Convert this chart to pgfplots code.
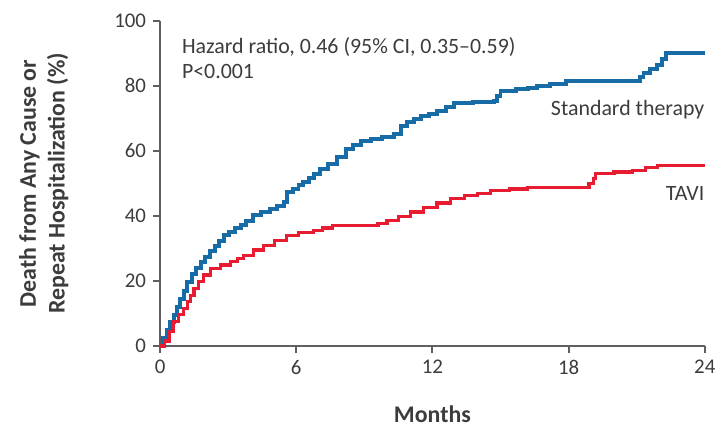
\documentclass[border=0pt]{standalone}
\usepackage{fontspec}
\setmainfont{Carlito}
\usepackage{pgfplots}
\pgfplotsset{compat=1.18}
\definecolor{stdblue}{RGB}{24,108,165}
\definecolor{tavired}{RGB}{232,28,48}
\definecolor{axgray}{RGB}{95,95,95}
\definecolor{txtgray}{RGB}{60,60,60}
\begin{document}
\begin{tikzpicture}
\begin{axis}[
  name=ax,
  scale only axis,
  width=274pt, height=163.5pt,
  xmin=0, xmax=24, ymin=0, ymax=100,
  axis x line*=bottom, axis y line*=left,
  axis line style={axgray, line width=1.3pt},
  xtick={0,6,12,18,24}, ytick={0,20,40,60,80,100},
  tick align=outside, major tick length=3.5pt,
  tick style={axgray, line width=1pt},
  tick label style={font=\fontsize{10.5}{12}\selectfont, txtgray},
  /pgf/number format/assume math mode=true,
  xlabel={\textbf{Months}},
  ylabel={\textbf{Death from Any Cause or}\\\textbf{Repeat Hospitalization (\%)}},
  xlabel style={font=\fontsize{12}{13}\selectfont, txtgray, at={(axis description cs:0.5,-0.211)}, anchor=center},
  ylabel style={font=\fontsize{12}{14.5}\selectfont, txtgray, align=center, at={(axis description cs:-0.2135,0.5)}, anchor=center},
  clip=false,
]
% standard therapy
\addplot[const plot, stdblue, line width=2pt] coordinates {
  (0,0)(0.15,2.5)(0.3,5)(0.45,7.5)(0.6,9.6)(0.75,12)(0.9,14.5)(1.05,17)(1.2,19.8)
  (1.4,22)(1.6,23.9)(1.8,25.8)(2.0,27.5)(2.2,29.2)(2.4,30.8)(2.6,32.4)(2.8,34)
  (3.05,35.2)(3.3,36.2)(3.55,37.1)(3.8,38.5)(4.1,40.2)(4.45,41.2)(4.85,42.2)
  (5.15,43.2)(5.45,44.2)(5.6,47.3)(5.85,48.3)(6.1,49.4)(6.3,50.3)(6.55,51.7)
  (6.8,53)(7.05,54.4)(7.4,56)(7.8,58.2)(8.2,60.5)(8.5,61.8)(8.85,63.1)(9.3,63.7)
  (9.8,64.4)(10.3,65.1)(10.6,67.7)(10.9,68.8)(11.2,69.8)(11.5,70.7)(11.85,71.5)
  (12.2,72.3)(12.6,73.6)(12.95,74.8)(13.8,75)(14.7,75.3)(14.85,77)(15.0,78.4)
  (15.7,78.9)(16.2,79.3)(16.6,79.9)(17.2,80.6)(17.9,81.4)(21.0,81.4)(21.15,82.6)
  (21.3,84)(21.6,85.2)(21.9,86.5)(22.1,88.3)(22.3,90.1)(24,90.1)
};
% TAVI
\addplot[const plot, tavired, line width=1.6pt] coordinates {
  (0,0)(0.18,1.5)(0.4,4.5)(0.6,7.6)(0.8,9.6)(1.05,11.6)(1.2,13.6)(1.35,15.6)
  (1.5,17.7)(1.7,19.8)(1.93,21.8)(2.22,23.9)(2.65,24.9)(3.1,25.9)(3.4,26.9)
  (3.68,27.9)(4.1,29.5)(4.55,31)(5.05,32.5)(5.58,34)(6.1,34.8)(6.75,35.6)
  (7.15,36.3)(7.6,37.1)(9.6,37.6)(10.0,38.5)(10.5,39.8)(11.05,41.2)(11.6,42.6)
  (12.2,44)(12.8,45.3)(13.4,46.2)(14.0,47)(14.55,47.8)(15.4,48.3)(16.2,48.8)
  (18.4,48.8)(18.9,50)(19.1,51.4)(19.2,53)(20.0,53.5)(20.8,54)(21.4,54.8)
  (21.9,55.5)(24,55.5)
};
\node[anchor=west, txtgray, font=\fontsize{11}{12}\selectfont, inner sep=0pt] at (axis cs:0.95,92) {Hazard ratio, 0.46 (95\% CI, 0.35–0.59)};
\node[anchor=west, txtgray, font=\fontsize{11}{12}\selectfont, inner sep=0pt] at (axis cs:0.95,84.4) {P<0.001};
\node[anchor=east, txtgray, font=\fontsize{11}{12}\selectfont, inner sep=0pt] at (axis cs:24,72.8) {Standard therapy};
\node[anchor=east, txtgray, font=\fontsize{11}{12}\selectfont, inner sep=0pt] at (axis cs:24,46.8) {TAVI};
\end{axis}
\path[use as bounding box] ([xshift=-80.5pt,yshift=-41pt]ax.south west) rectangle ([xshift=6.5pt,yshift=10.5pt]ax.north east);
\end{tikzpicture}
\end{document}
